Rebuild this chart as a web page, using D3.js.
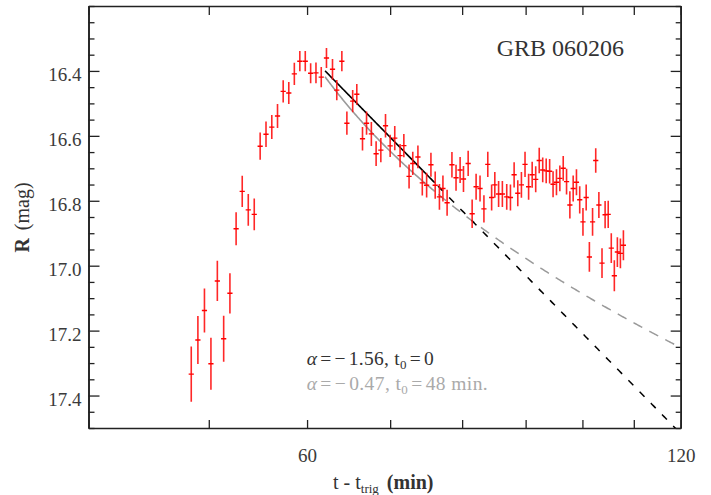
<!DOCTYPE html>
<html><head><meta charset="utf-8">
<script src="https://cdn.jsdelivr.net/npm/d3@7"></script>
<style>
body{margin:0;background:#fff}
text{font-family:"Liberation Serif","Times New Roman",serif}
</style>
</head><body>
<svg id="c" width="711" height="495"></svg>
<script>
// ---- data ----
const times = [48.4,49.0,49.6,50.2,50.8,51.4,52.0,52.6,53.2,53.8,
  54.4,55.0,55.6,56.2,56.8,57.4,58.0,58.6,59.2,59.8,
  60.4,61.0,61.6,62.2,62.9,63.4,64.0,64.6,65.3,65.8,
  66.5,67.0,67.6,68.2,68.8,69.4,70.0,70.6,71.3,71.8,
  72.5,73.0,73.7,74.3,74.9,75.5,76.1,76.7,77.2,77.8,
  78.5,79.1,79.7,80.2,80.9,81.5,82.1,82.7,83.3,83.9,
  84.5,85.0,85.6,86.2,86.9,87.5,88.1,88.7,89.3,89.9,
  90.5,91.1,91.7,92.3,92.9,93.5,94.1,94.7,95.3,95.9,
  96.5,97.1,97.7,98.3,98.9,99.5,100.1,100.7,101.3,101.9,
  102.5,103.1,103.7,104.3,104.9,105.5,106.1,106.7,107.3,107.9];
const mags = [17.334,17.229,17.138,17.302,17.047,17.225,17.085,16.886,16.771,16.828,
  16.842,16.632,16.595,16.573,16.539,16.463,16.468,16.409,16.370,16.370,
  16.407,16.406,16.419,16.360,16.395,16.459,16.370,16.561,16.493,16.472,
  16.609,16.561,16.594,16.655,16.644,16.569,16.631,16.607,16.661,16.630,
  16.725,16.685,16.665,16.745,16.752,16.689,16.752,16.788,16.762,16.806,
  16.689,16.729,16.705,16.733,16.685,16.840,16.757,16.762,16.825,16.688,
  16.790,16.751,16.779,16.779,16.788,16.790,16.720,16.777,16.751,16.688,
  16.757,16.720,16.734,16.676,16.705,16.708,16.709,16.749,16.743,16.731,
  16.700,16.741,16.813,16.762,16.743,16.797,16.865,16.790,16.973,16.865,
  16.676,16.813,16.992,16.843,16.842,16.946,17.031,16.958,16.962,16.937];
const errs = [0.085,0.074,0.068,0.080,0.062,0.071,0.062,0.051,0.048,0.049,
  0.049,0.042,0.039,0.037,0.037,0.034,0.034,0.034,0.031,0.031,
  0.031,0.032,0.031,0.031,0.032,0.031,0.031,0.036,0.034,0.032,
  0.036,0.036,0.037,0.038,0.037,0.036,0.034,0.037,0.036,0.036,
  0.037,0.036,0.035,0.039,0.038,0.037,0.042,0.040,0.040,0.040,
  0.039,0.040,0.040,0.040,0.039,0.044,0.040,0.040,0.042,0.039,
  0.040,0.040,0.040,0.040,0.040,0.040,0.039,0.040,0.040,0.039,
  0.040,0.040,0.040,0.039,0.038,0.038,0.038,0.040,0.040,0.040,
  0.038,0.040,0.042,0.040,0.040,0.042,0.043,0.040,0.046,0.043,
  0.038,0.040,0.046,0.042,0.042,0.046,0.048,0.046,0.046,0.046];

// power-law fits: m = norm - 2.5*alpha*log10(t - t0)
const fitAlpha = [-1.56, -0.47];
const fitT0 = [0, 48];
const fitNorm = [9.4085, 15.07];
const fitSolidRange = [62.04, 76.1];
const fitLabels = ["1.56", "0.47"];
const fitT0Labels = ["0", "48 min."];

const xTickValues = [40,50,60,70,80,90,100,110,120];
const xTickLabels = ["60","120"];
const yMajorTicks = [16.4,16.6,16.8,17.0,17.2,17.4];
const title = "GRB 060206";

// ---- layout ----
const svg = d3.select("#c");
const L = 88.5, R = 680.7, T = 6, B = 428;
const x = d3.scaleLog().domain([40,120]).range([L,R]);
const y = d3.scaleLinear().domain([16.2,17.5]).range([T,B]);
const yMinor = d3.range(16.2, 17.5001, 0.05).map(v => +v.toFixed(2)).filter(v => !yMajorTicks.some(m => Math.abs(m - v) < 1e-6));

svg.append("rect").attr("width",711).attr("height",495).attr("fill","#fff");

const axisCol = "#222";
function styleAxis(g){
  g.selectAll("path.domain").attr("stroke",axisCol).attr("stroke-width",1.6);
  g.selectAll(".tick line").attr("stroke",axisCol).attr("stroke-width",1.3);
  g.selectAll("text").attr("fill","#3a3a3a").style("font-size","19px").attr("font-family",'"Liberation Serif",serif');
}
// left
svg.append("g").attr("transform",`translate(${L},0)`)
  .call(d3.axisLeft(y).tickValues(yMinor).tickSizeInner(-6).tickSizeOuter(0).tickFormat(""))
  .call(styleAxis);
svg.append("g").attr("transform",`translate(${L},0)`)
  .call(d3.axisLeft(y).tickValues(yMajorTicks).tickSizeInner(-11).tickSizeOuter(0).tickPadding(7).tickFormat(d3.format(".1f")))
  .call(styleAxis)
  .call(g => g.selectAll("text").attr("dy","0.52em"));
// right
svg.append("g").attr("transform",`translate(${R},0)`)
  .call(d3.axisRight(y).tickValues(yMinor).tickSizeInner(-5).tickSizeOuter(0).tickFormat(""))
  .call(styleAxis);
svg.append("g").attr("transform",`translate(${R},0)`)
  .call(d3.axisRight(y).tickValues(yMajorTicks).tickSizeInner(-10).tickSizeOuter(0).tickFormat(""))
  .call(styleAxis);
// bottom
svg.append("g").attr("transform",`translate(0,${B})`)
  .call(d3.axisBottom(x).tickValues(xTickValues).tickSizeInner(-8).tickSizeOuter(0).tickPadding(20.5)
    .tickFormat(d => xTickLabels.includes(String(d)) ? String(d) : ""))
  .call(styleAxis);
// top
svg.append("g").attr("transform",`translate(0,${T})`)
  .call(d3.axisTop(x).tickValues(xTickValues).tickSizeInner(-9).tickSizeOuter(0).tickFormat(""))
  .call(styleAxis);

// clip
svg.append("clipPath").attr("id","clip").append("rect")
  .attr("x",L).attr("y",T).attr("width",R-L).attr("height",B-T);

// fit curves
const fitModel = (i, t) => fitNorm[i] - 2.5*fitAlpha[i]*Math.log10(t - fitT0[i]);
const line = d3.line().x(d => x(d[0])).y(d => y(d[1]));
const fitColors = ["#000000", "#9a9a9a"];
const fitDash = ["7,9", "10,8"];
const fg = svg.append("g").attr("clip-path","url(#clip)");
[1,0].forEach(i => {
  const dashed = d3.range(fitSolidRange[1], 121, 0.25).map(t => [t, fitModel(i,t)]);
  const solid = d3.range(fitSolidRange[0], fitSolidRange[1]+0.001, 0.1).map(t => [t, fitModel(i,t)]);
  fg.append("path").attr("d", line(dashed)).attr("fill","none")
    .attr("stroke",fitColors[i]).attr("stroke-width",1.5).attr("stroke-dasharray",fitDash[i])
    .attr("stroke-dashoffset", -4);
  fg.append("path").attr("d", line(solid)).attr("fill","none")
    .attr("stroke",fitColors[i]).attr("stroke-width",1.6);
});

// data with error bars
const pts = times.map((t,i) => ({t, m: mags[i], e: errs[i]}));
const dg = svg.append("g").attr("clip-path","url(#clip)");
dg.selectAll("line.eb").data(pts).join("line").attr("class","eb")
  .attr("x1", d => x(d.t)).attr("x2", d => x(d.t))
  .attr("y1", d => y(d.m - d.e)).attr("y2", d => y(d.m + d.e))
  .attr("stroke","#ff1010").attr("stroke-width",1.6).attr("stroke-opacity",0.9);
dg.selectAll("line.ct").data(pts).join("line").attr("class","ct")
  .attr("x1", d => x(d.t) - 2.6).attr("x2", d => x(d.t) + 2.6)
  .attr("y1", d => y(d.m)).attr("y2", d => y(d.m))
  .attr("stroke","#ff0000").attr("stroke-width",1.4);

// title
const tt = svg.append("text").attr("x",496.7).attr("y",55.5).attr("fill","#333").style("font-size","24px");
tt.append("tspan").text(title);

// legend: small equal gaps around the = and − signs
const legCols = ["#333333", "#aaaaaa"];
const legY = [365, 390];
const legW = [127, 181];
[0,1].forEach(i => {
  const tx = svg.append("text").attr("x",306.7).attr("y",legY[i]).attr("fill",legCols[i])
    .style("font-size","19.5px");
  tx.append("tspan").attr("font-style","italic").text("α");
  const e1 = tx.append("tspan").text("=");
  const mi = tx.append("tspan").text("−");
  const n1 = tx.append("tspan").text(fitLabels[i] + ", t");
  tx.append("tspan").attr("dy",4).style("font-size","13px").text("0");
  const e2 = tx.append("tspan").attr("dy",-4).text("=");
  const v2 = tx.append("tspan").text(fitT0Labels[i]);
  const nat = tx.node().getComputedTextLength();
  const gap = Math.min(3, Math.max(0, (legW[i] - nat) / 5));
  [e1, mi, n1, e2, v2].forEach(s => s.attr("dx", gap));
  const rest = legW[i] - tx.node().getComputedTextLength();
  if (rest > 2) tx.attr("textLength", legW[i]).attr("lengthAdjust", "spacing");
});

// axis titles
const xt = svg.append("text").attr("x",333).attr("y",489).attr("fill","#333").style("font-size","20px");
xt.append("tspan").text("t - t");
xt.append("tspan").attr("dy",4).style("font-size","13px").text("trig");
xt.append("tspan").attr("dy",-4).attr("dx",8).attr("font-weight","bold").text("(min)");

const yt = svg.append("text").attr("transform","translate(28.5,217.5) rotate(-90)")
  .attr("text-anchor","middle").attr("fill","#333").style("font-size","20px");
yt.append("tspan").attr("font-weight","bold").text("R");
yt.append("tspan").attr("dx",8).text("(mag)");
</script>
</body></html>
